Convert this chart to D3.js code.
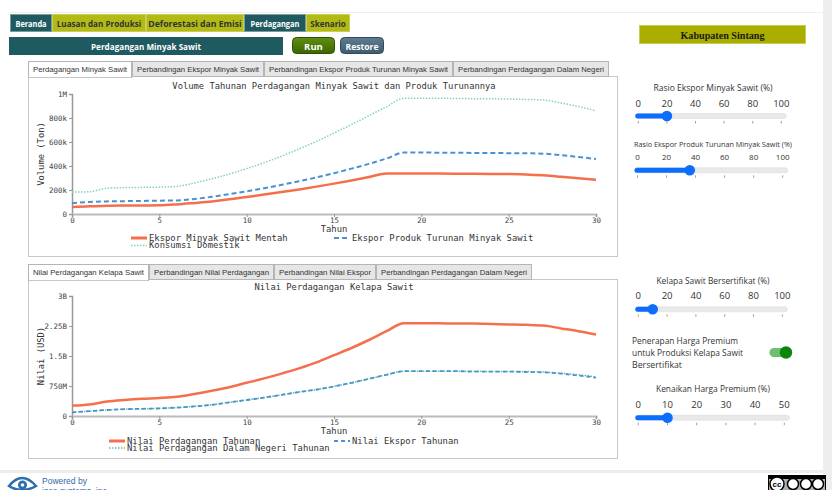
<!DOCTYPE html>
<html><head><meta charset="utf-8">
<script src="https://cdn.jsdelivr.net/npm/d3@7"></script>
<style>
html,body{margin:0;padding:0;background:#fff;width:832px;height:490px;overflow:hidden;}
svg{display:block;}
</style></head><body>
<svg id="root" width="832" height="490"></svg>
<script>
// ---------- DATA ----------
const years = [0,1,2,3,4,5,6,7,8,9,10,11,12,13,14,15,16,17,18,19,20,21,22,23,24,25,26,27,28,29,30];
// Volume (Ton)
const eksporMentah = [58000,65000,68000,70000,71000,72000,80000,92000,105000,122000,142000,162000,183000,205000,228000,253000,280000,308000,338000,338000,337000,337000,336000,335000,334000,333000,330000,322000,310000,297000,285000];
const eksporTurunan = [90000,100000,105000,107000,109000,111000,113000,125000,143000,165000,189000,215000,243000,273000,305000,340000,378000,418000,462000,512000,512000,511000,510000,509000,508000,507000,506000,503000,490000,475000,458000];
const konsumsiDomestik = [183000,185000,215000,220000,222000,224000,230000,258000,293000,333000,378000,428000,482000,542000,605000,675000,745000,820000,893000,965000,965000,964000,963000,961000,960000,958000,955000,950000,925000,895000,860000];
// Nilai (USD)
const nilaiTahunan = [0.26e9,0.29e9,0.36e9,0.40e9,0.43e9,0.45e9,0.48e9,0.55e9,0.63e9,0.72e9,0.83e9,0.94e9,1.06e9,1.19e9,1.34e9,1.52e9,1.70e9,1.90e9,2.12e9,2.32e9,2.32e9,2.32e9,2.31e9,2.31e9,2.30e9,2.29e9,2.28e9,2.26e9,2.19e9,2.12e9,2.04e9];
const nilaiEkspor = [0.09e9,0.12e9,0.15e9,0.17e9,0.18e9,0.19e9,0.21e9,0.24e9,0.28e9,0.34e9,0.40e9,0.46e9,0.53e9,0.60e9,0.66e9,0.74e9,0.83e9,0.93e9,1.03e9,1.12e9,1.12e9,1.12e9,1.12e9,1.11e9,1.11e9,1.11e9,1.10e9,1.09e9,1.06e9,1.01e9,0.96e9];
const nilaiDalamNegeri = [0.10e9,0.12e9,0.15e9,0.17e9,0.18e9,0.19e9,0.21e9,0.24e9,0.28e9,0.34e9,0.40e9,0.46e9,0.53e9,0.60e9,0.66e9,0.74e9,0.83e9,0.93e9,1.03e9,1.12e9,1.12e9,1.12e9,1.12e9,1.12e9,1.11e9,1.11e9,1.11e9,1.10e9,1.07e9,1.03e9,0.98e9];

const xTicks = [0,5,10,15,20,25,30];
const volTicks = [0,200000,400000,600000,800000,1000000];
const volTickLabels = ["0","200k","400k","600k","800k","1M"];
const nilaiTicks = [0,750e6,1.5e9,2.25e9,3e9];
const nilaiTickLabels = ["0","750M","1.5B","2.25B","3B"];

const navItems = ["Beranda","Luasan dan Produksi","Deforestasi dan Emisi","Perdagangan","Skenario"];
const topTabs = ["Perdagangan Minyak Sawit","Perbandingan Ekspor Minyak Sawit","Perbandingan Ekspor Produk Turunan Minyak Sawit","Perbandingan Perdagangan Dalam Negeri"];
const bottomTabs = ["Nilai Perdagangan Kelapa Sawit","Perbandingan Nilai Perdagangan","Perbandingan Nilai Ekspor","Perbandingan Perdagangan Dalam Negeri"];

const slider1Ticks = [0,20,40,60,80,100];
const slider4Ticks = [0,10,20,30,40,50];
const sliderValues = [20,36,10,10];

// ---------- STYLE ----------
const TEAL = "#1f5a60", OLIVE = "#b2ba16";
const RED = "#f4704c", BLUE = "#4a92cf", GREEN = "#86d3b0", GREEN2 = "#5cbfa3";
const MONO = "'DejaVu Sans Mono', monospace";
const SANS = "'Open Sans', 'Noto Sans', sans-serif";

const svg = d3.select("#root");

function T(g, x, y, s, o={}) {
  const t = g.append("text").attr("x", x).attr("y", y).text(s)
    .attr("font-family", o.family || SANS).attr("font-size", o.size || 9)
    .attr("fill", o.fill || "#333").attr("text-anchor", o.anchor || "start");
  if (o.weight) t.attr("font-weight", o.weight);
  if (o.len) t.attr("textLength", o.len).attr("lengthAdjust", "spacingAndGlyphs");
  return t;
}

// page frame
svg.append("rect").attr("x",0).attr("y",0).attr("width",832).attr("height",490).attr("fill","#fff");
svg.append("rect").attr("x",823).attr("y",0).attr("width",9).attr("height",490).attr("fill","#eeeeee");
svg.append("rect").attr("x",0).attr("y",470).attr("width",823).attr("height",3).attr("fill","#ececec");
svg.append("line").attr("x1",10).attr("x2",823).attr("y1",12.5).attr("y2",12.5).attr("stroke","#eeeeee");

// ---------- NAV ----------
const navX = [10,52,146,244,306,350];
const navActive = [true,false,false,true,false];
navItems.forEach((s,i)=>{
  const x0 = navX[i], w = navX[i+1]-navX[i]-1;
  svg.append("rect").attr("x",x0+0.5).attr("y",14.5).attr("width",w).attr("height",17)
    .attr("fill", navActive[i]?TEAL:OLIVE).attr("stroke", navActive[i]?"#7a9a9c":"#c9cf55");
  T(svg, x0+w/2+0.5, 26.5, s, {anchor:"middle", size:9, weight:"bold", fill: navActive[i]?"#fff":"#333", len: s.length*4.45});
});

// title bar + buttons
svg.append("rect").attr("x",9).attr("y",37).attr("width",274).attr("height",18).attr("fill",TEAL);
T(svg, 146, 49.5, "Perdagangan Minyak Sawit", {anchor:"middle", size:9.5, weight:"bold", fill:"#fff", len:110});
const defs = svg.append("defs");
const gRun = defs.append("linearGradient").attr("id","gRun").attr("x1",0).attr("y1",0).attr("x2",0).attr("y2",1);
gRun.append("stop").attr("offset","0%").attr("stop-color","#5f8f14");
gRun.append("stop").attr("offset","100%").attr("stop-color","#3c6600");
const gRes = defs.append("linearGradient").attr("id","gRes").attr("x1",0).attr("y1",0).attr("x2",0).attr("y2",1);
gRes.append("stop").attr("offset","0%").attr("stop-color","#5f7c90");
gRes.append("stop").attr("offset","100%").attr("stop-color","#3f5b6e");
svg.append("rect").attr("x",292.5).attr("y",37.5).attr("width",42).attr("height",16).attr("rx",4).attr("fill","url(#gRun)").attr("stroke","#2f4f00");
T(svg, 313.5, 49.5, "Run", {anchor:"middle", size:9.5, weight:"bold", fill:"#fff"});
svg.append("rect").attr("x",340.5).attr("y",37.5).attr("width",43).attr("height",16).attr("rx",4).attr("fill","url(#gRes)").attr("stroke","#33495a");
T(svg, 362, 49.5, "Restore", {anchor:"middle", size:9.5, weight:"bold", fill:"#fff", len:33});

// Kabupaten
svg.append("rect").attr("x",639.5).attr("y",25.5).attr("width",166).attr("height",18).attr("fill","#a9ae00").attr("stroke","#c8cc55");
T(svg, 722.5, 38.5, "Kabupaten Sintang", {anchor:"middle", size:10.5, weight:"bold", family:"'Liberation Serif', serif", fill:"#1a1a1a", len:84});

// ---------- TABS + PANELS ----------
function tabs(bounds, labels, y) {
  labels.forEach((s,i)=>{
    const x0 = bounds[i], w = bounds[i+1]-bounds[i]-1;
    svg.append("rect").attr("x",x0+0.5).attr("y",y+0.5).attr("width",w).attr("height", i===0?16:15)
      .attr("fill", i===0?"#fff":"#e6e6e6").attr("stroke","#b5b5b5");
    T(svg, x0+w/2+0.5, y+11, s, {anchor:"middle", size:8, family:"'Liberation Sans', Arial, sans-serif", fill:"#333", len: w-9});
  });
}
function panel(y0, y1) {
  svg.append("rect").attr("x",28.5).attr("y",y0+0.5).attr("width",589).attr("height",y1-y0).attr("fill","#fff").attr("stroke","#c8c8c8");
}
panel(76, 256);
tabs([28,132,264,453,609], topTabs, 61);
svg.append("line").attr("x1",29).attr("x2",131).attr("y1",76.5).attr("y2",76.5).attr("stroke","#fff").attr("stroke-width",1.5);
panel(279, 458);
tabs([28,149,274,376,532], bottomTabs, 264);
svg.append("line").attr("x1",29).attr("x2",148).attr("y1",279.5).attr("y2",279.5).attr("stroke","#fff").attr("stroke-width",1.5);

// ---------- CHARTS ----------
function chart(cfg) {
  const g = svg.append("g");
  const x = d3.scaleLinear().domain([0,30]).range([72,596]);
  const y = d3.scaleLinear().domain(cfg.yDomain).range([cfg.yBottom, cfg.yTop]);
  // title
  T(g, 334, cfg.titleY, cfg.title, {anchor:"middle", family:MONO, size:9.5, fill:"#333", len: cfg.title.length*5.3});
  // y axis
  const ya = g.append("g").attr("transform","translate(72,0)")
    .call(d3.axisLeft(y).tickValues(cfg.yTicks).tickFormat((d,i)=>cfg.yLabels[i]).tickSize(3).tickPadding(2));
  ya.select(".domain").attr("stroke","#999").attr("stroke-width",1.5);
  ya.selectAll(".tick line").attr("stroke","#999");
  ya.selectAll("text").attr("font-family",MONO).attr("font-size",7.5).attr("fill","#444")
    .each(function(){ const s=this.textContent; d3.select(this).attr("textLength", s.length*4.5).attr("lengthAdjust","spacingAndGlyphs"); });
  // x axis
  const xa = g.append("g").attr("transform",`translate(0,${cfg.yBottom})`)
    .call(d3.axisBottom(x).tickValues(xTicks).tickFormat(d3.format("d")).tickSize(3).tickPadding(1));
  xa.select(".domain").attr("stroke","#bbb").attr("stroke-width",2);
  xa.selectAll(".tick line").attr("stroke","#999");
  xa.selectAll("text").attr("font-family",MONO).attr("font-size",7.5).attr("fill","#444")
    .each(function(){ const s=this.textContent; d3.select(this).attr("textLength", s.length*4.5).attr("lengthAdjust","spacingAndGlyphs"); });
  // axis titles
  T(g, 334, cfg.yBottom+17.5, "Tahun", {anchor:"middle", family:MONO, size:9.5, fill:"#333", len:26.5});
  T(g, 0, 0, cfg.yTitle, {anchor:"middle", family:MONO, size:9.5, fill:"#333", len: cfg.yTitle.length*5.3})
    .attr("transform", `translate(44,${(cfg.yTop+cfg.yBottom)/2}) rotate(-90)`);
  // lines
  cfg.series.forEach(s=>{
    const line = d3.line().x((d,i)=>x(years[i])).y(d=>y(d)).curve(d3.curveMonotoneX);
    g.append("path").datum(s.data).attr("d", line).attr("fill","none")
      .attr("stroke", s.color).attr("stroke-width", s.width).attr("stroke-dasharray", s.dash || null);
  });
  // legend
  cfg.series.forEach(s=>{
    const L = s.legend;
    g.append("line").attr("x1",L.x).attr("x2",L.x+16).attr("y1",L.y-2.5).attr("y2",L.y-2.5)
      .attr("stroke", s.color).attr("stroke-width", s.lwidth || s.width).attr("stroke-dasharray", s.ldash || s.dash || null);
    T(g, L.x+18, L.y, s.name, {family:MONO, size:9.5, fill:"#333", len: s.name.length*5.33});
  });
}

chart({
  title: "Volume Tahunan Perdagangan Minyak Sawit dan Produk Turunannya", titleY: 89,
  yDomain: [0, 1000000], yTop: 94, yBottom: 214, yTicks: volTicks, yLabels: volTickLabels,
  yTitle: "Volume (Ton)",
  series: [
    {name:"Konsumsi Domestik", data: konsumsiDomestik, color: GREEN, width: 1.5, dash: "1.5,1.5", legend:{x:131, y:248}},
    {name:"Ekspor Produk Turunan Minyak Sawit", data: eksporTurunan, color: BLUE, width: 2, dash: "5,3", legend:{x:334, y:240.5}},
    {name:"Ekspor Minyak Sawit Mentah", data: eksporMentah, color: RED, width: 2.5, legend:{x:131, y:240.5}, lwidth:3}
  ]
});

chart({
  title: "Nilai Perdagangan Kelapa Sawit", titleY: 290,
  yDomain: [0, 3e9], yTop: 296, yBottom: 416, yTicks: nilaiTicks, yLabels: nilaiTickLabels,
  yTitle: "Nilai (USD)",
  series: [
    {name:"Nilai Perdagangan Dalam Negeri Tahunan", data: nilaiDalamNegeri, color: GREEN2, width: 1.5, dash: "1.5,1.5", legend:{x:109, y:450.5}},
    {name:"Nilai Ekspor Tahunan", data: nilaiEkspor, color: BLUE, width: 1.8, dash: "4,3", legend:{x:334, y:443.5}},
    {name:"Nilai Perdagangan Tahunan", data: nilaiTahunan, color: RED, width: 2.5, legend:{x:109, y:443.5}, lwidth:3}
  ]
});

// ---------- SLIDERS ----------
function slider(cfg) {
  const g = svg.append("g");
  const s = d3.scaleLinear().domain([cfg.ticks[0], cfg.ticks[cfg.ticks.length-1]]).range([cfg.x0, cfg.x1]);
  T(g, 713, cfg.labelY, cfg.label, {anchor:"middle", size:cfg.labelSize, fill:"#333", len: cfg.labelLen});
  cfg.ticks.forEach(t=>{
    T(g, s(t), cfg.tickY, String(t), {anchor:"middle", size:cfg.tickSize, fill:"#333"});
    g.append("line").attr("x1", s(t)).attr("x2", s(t)).attr("y1", cfg.trackY+5).attr("y2", cfg.trackY+7.5).attr("stroke","#888").attr("stroke-width",0.8);
  });
  g.append("rect").attr("x", cfg.x0-3).attr("y", cfg.trackY-2.5).attr("width", cfg.x1-cfg.x0+8).attr("height",5).attr("rx",2.5)
    .attr("fill","#e9e9e9").attr("stroke","#dcdcdc").attr("stroke-width",0.6);
  g.append("rect").attr("x", cfg.x0-3).attr("y", cfg.trackY-2.5).attr("width", s(cfg.value)-cfg.x0+3).attr("height",5).attr("rx",2.5)
    .attr("fill","#0d6efd");
  g.append("circle").attr("cx", s(cfg.value)).attr("cy", cfg.trackY).attr("r",5.3).attr("fill","#0d6efd");
}
slider({label:"Rasio Ekspor Minyak Sawit (%)", labelY:90.5, labelSize:9.5, labelLen:119, ticks:slider1Ticks, tickY:106.5, tickSize:9.5, x0:638.3, x1:781.3, trackY:116, value:sliderValues[0]});
slider({label:"Rasio Ekspor Produk Turunan Minyak Sawit (%)", labelY:146.5, labelSize:8, labelLen:158, ticks:slider1Ticks, tickY:160, tickSize:8, x0:637.5, x1:782.7, trackY:170.3, value:sliderValues[1]});
slider({label:"Kelapa Sawit Bersertifikat (%)", labelY:283.5, labelSize:9.5, labelLen:113, ticks:slider1Ticks, tickY:299, tickSize:9.5, x0:638.3, x1:782.3, trackY:309.3, value:sliderValues[2]});
slider({label:"Kenaikan Harga Premium (%)", labelY:391.5, labelSize:9.5, labelLen:114, ticks:slider4Ticks, tickY:408, tickSize:9.5, x0:638.3, x1:784.3, trackY:417.7, value:sliderValues[3]});

// toggle
["Penerapan Harga Premium","untuk Produksi Kelapa Sawit","Bersertifikat"].forEach((s,i)=>{
  T(svg, 632, [344,356,367.5][i], s, {size:9.5, fill:"#333", len: [106,111,50][i]});
});
svg.append("rect").attr("x",769.5).attr("y",348).attr("width",22).attr("height",9).attr("rx",4.5).attr("fill","#6cbf6c");
svg.append("circle").attr("cx",786).attr("cy",352.5).attr("r",6.2).attr("fill","#0b860b");

// ---------- FOOTER ----------
const eye = svg.append("g");
eye.append("path").attr("d","M9,486 Q22,470 36,486 Q22,494 9,486 Z").attr("fill","#fff").attr("stroke","#2a6fae").attr("stroke-width",2.5);
eye.append("circle").attr("cx",22.5).attr("cy",485).attr("r",4.5).attr("fill","#2a6fae");
eye.append("circle").attr("cx",22.5).attr("cy",485).attr("r",1.8).attr("fill","#fff");
T(svg, 42, 483.5, "Powered by", {size:8.5, fill:"#3468a8", family:"'Liberation Sans', Arial, sans-serif"});
T(svg, 42, 494, "isee systems, inc", {size:8.5, fill:"#3468a8", family:"'Liberation Sans', Arial, sans-serif"});
const cc = svg.append("g");
cc.append("rect").attr("x",768.5).attr("y",475.5).attr("width",57).attr("height",16).attr("fill","#aab2ab").attr("stroke","#000");
cc.append("rect").attr("x",769).attr("y",476).attr("width",56).attr("height",3).attr("fill","#000");
[777,793,806,818].forEach((cx,i)=>{
  cc.append("circle").attr("cx",cx).attr("cy",484).attr("r", i===0?7:5.5).attr("fill","#fff").attr("stroke","#000").attr("stroke-width",1.5);
});
T(cc, 777, 487, "cc", {anchor:"middle", size:8, weight:"bold", fill:"#000", family:"'Liberation Sans', Arial, sans-serif"});
</script>
</body></html>
